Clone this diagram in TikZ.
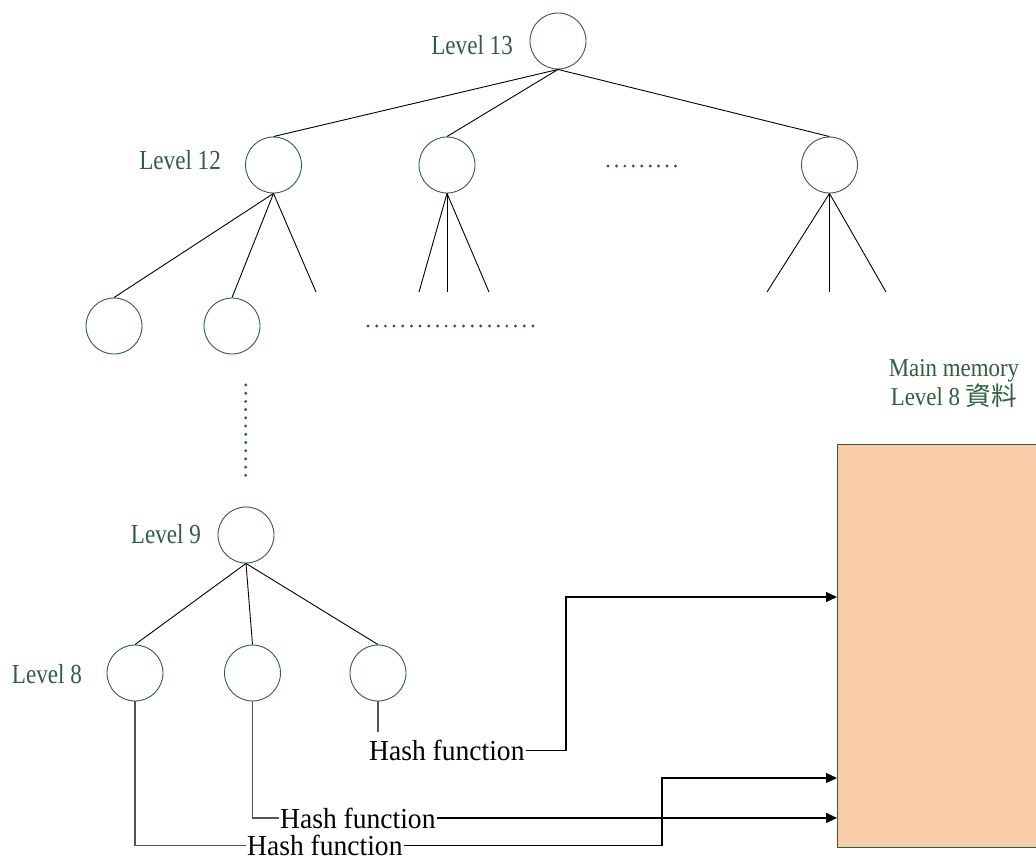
\documentclass[tikz,border=0pt]{standalone}
\usepackage{fontspec}
\setmainfont{Liberation Serif}
\newfontfamily\lvlfont[FakeStretch=0.84]{Liberation Serif}
\newfontfamily\hashfont[FakeStretch=0.95]{Liberation Serif}
\newfontfamily\memfont[FakeStretch=0.89]{Liberation Serif}
\newfontfamily\cjkfont{Noto Sans CJK TC}
\usetikzlibrary{arrows.meta}

\definecolor{treegreen}{HTML}{2F5E40}
\definecolor{memfill}{HTML}{F8CCA8}
\definecolor{wire}{HTML}{555555}

\tikzset{
  treenode/.style={circle, draw=treegreen, line width=0.9pt, minimum size=56pt, inner sep=0pt},
  edge/.style={draw=black, line width=0.9pt},
  lvllabel/.style={text=treegreen, inner sep=0pt, font=\lvlfont\fontsize{27.5pt}{30pt}\selectfont},
  hashlabel/.style={text=black, inner sep=0pt, inner xsep=1pt, font=\hashfont\fontsize{29pt}{32pt}\selectfont},
  memlabel/.style={text=treegreen, inner sep=0pt, align=center, font=\memfont\fontsize{25.7pt}{29pt}\selectfont},
  dotrow/.style={draw=treegreen, line width=3.2pt, line cap=round, dash pattern=on 0pt off #1},
  wireline/.style={draw=wire, line width=1.7pt},
  toarrow/.style={draw=black, line width=1.2pt, -{Triangle[length=11pt,width=10pt]}},
  memblock/.style={draw=treegreen, line width=1pt, fill=memfill}
}

\begin{document}
\begin{tikzpicture}[x=1pt, y=-1pt]
\useasboundingbox (0,0) rectangle (1036,859);

% main memory block
\path[memblock] (837,444) rectangle (1040,847);
\coordinate (memleft) at (837,444);
\node[memlabel, anchor=base] (memtitle) at (954,376) {Main memory};
\node[memlabel, anchor=base] (memsub) at (954,405) {Level 8 {\cjkfont 資料}};

% tree nodes
\node[treenode] (n13) at (558,41) {};
\node[treenode] (n12a) at (273.5,165) {};
\node[treenode] (n12b) at (447,165) {};
\node[treenode] (n12c) at (829.5,165) {};
\node[treenode] (n11a) at (114,326) {};
\node[treenode] (n11b) at (232,326) {};
\node[treenode] (n9) at (246,535) {};
\node[treenode] (n8a) at (135,673) {};
\node[treenode] (n8b) at (252.5,673) {};
\node[treenode] (n8c) at (378,673) {};

% level labels
\node[lvllabel, anchor=base east] (l13) at (513,54.5) {Level 13};
\node[lvllabel, anchor=base east] (l12) at (221,169) {Level 12};
\node[lvllabel, anchor=base east] (l9) at (201,543) {Level 9};
\node[lvllabel, anchor=base east] (l8) at (82,683) {Level 8};

% edges of the tree
\draw[edge] (n13.south) -- (n12a.north);
\draw[edge] (n13.south) -- (n12b.north);
\draw[edge] (n13.south) -- (n12c.north);
\draw[edge] (n12a.south) -- (n11a.north);
\draw[edge] (n12a.south) -- (n11b.north);
\coordinate (a3) at (316,292);
\draw[edge] (n12a.south) -- (a3);
\coordinate (b1) at (419,292);
\coordinate (b2) at (447,292);
\coordinate (b3) at (489,292);
\draw[edge] (n12b.south) -- (b1);
\draw[edge] (n12b.south) -- (b2);
\draw[edge] (n12b.south) -- (b3);
\coordinate (c1) at (767,292);
\coordinate (c2) at (829.5,292);
\coordinate (c3) at (886,292);
\draw[edge] (n12c.south) -- (c1);
\draw[edge] (n12c.south) -- (c2);
\draw[edge] (n12c.south) -- (c3);
\draw[edge] (n9.south) -- (n8a.north);
\draw[edge] (n9.south) -- (n8b.north);
\draw[edge] (n9.south) -- (n8c.north);

% elided parts of the tree
\draw[dotrow=8.43pt] (608,166) -- (676,166);
\draw[dotrow=8.68pt] (368,326) -- (533.5,326);
\draw[dotrow=8.21pt] (245.7,385) -- (245.7,476);

% hash functions
\node[hashlabel, anchor=base west] (h1) at (368,760.7) {Hash function};
\node[hashlabel, anchor=base west] (h2) at (279,828) {Hash function};
\node[hashlabel, anchor=base west] (h3) at (246,855.5) {Hash function};

\draw[wireline] (n8c.south) -- (378,732);
\draw[wireline] (n8b.south) |- (h2.west);
\draw[wireline] (n8a.south) |- (h3.west);

% routes into main memory
\coordinate (turn1) at (566,0);
\coordinate (turn3) at (662,0);
\draw[toarrow] (h1.east) -- (turn1 |- h1.east) |- (memleft |- 0,597);
\draw[toarrow] (h2.east) -- (memleft |- h2.east);
\draw[toarrow] (h3.east) -- (turn3 |- h3.east) |- (memleft |- 0,778);
\end{tikzpicture}
\end{document}
